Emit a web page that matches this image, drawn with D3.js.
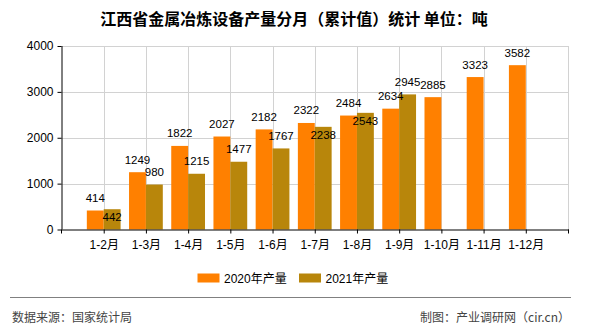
<!DOCTYPE html>
<html>
<head>
<meta charset="utf-8">
<script src="https://cdn.jsdelivr.net/npm/d3@7/dist/d3.min.js"></script>
<style>
  body { margin: 0; background: #fff; }
  svg { display: block; font-family: "Liberation Sans", "Noto Sans CJK SC", sans-serif; }
</style>
</head>
<body>
<svg id="chart" width="590" height="330"></svg>
<script>
// Cumulative monthly output, tonnes
const categories = ["1-2月", "1-3月", "1-4月", "1-5月", "1-6月", "1-7月", "1-8月", "1-9月", "1-10月", "1-11月", "1-12月"];
const values2020 = [414, 1249, 1822, 2027, 2182, 2322, 2484, 2634, 2885, 3323, 3582];
const values2021 = [442, 980, 1215, 1477, 1767, 2238, 2543, 2945, null, null, null];
const yTicks = [0, 1000, 2000, 3000, 4000];
const seriesNames = ["2020年产量", "2021年产量"];
const colors = ["#FF8000", "#B8860B"];

const svg = d3.select("#chart");
const plotLeft = 61.5, plotRight = 568, plotTop = 46, plotBottom = 229.5;

const x = d3.scalePoint().domain(categories).range([plotLeft, plotRight]).padding(1);
const y = d3.scaleLinear().domain([0, 4000]).range([plotBottom, plotTop]);
const barW = x.step() * 0.4;

// title
svg.append("text")
  .attr("x", 294).attr("y", 18)
  .attr("text-anchor", "middle").attr("dominant-baseline", "central")
  .style("font-family", "'Noto Sans CJK SC', sans-serif")
  .style("font-size", "16px").style("font-weight", "bold").attr("fill", "#000")
  .text("江西省金属冶炼设备产量分月（累计值）统计 单位：吨");

// grid
const grid = svg.append("g").attr("stroke", "#d2d2d2").attr("stroke-width", 1);
yTicks.filter(d => d > 0).forEach(t => {
  grid.append("line").attr("x1", plotLeft).attr("x2", plotRight)
    .attr("y1", Math.round(y(t)) + 0.5).attr("y2", Math.round(y(t)) + 0.5);
});
categories.forEach(c => {
  grid.append("line").attr("x1", Math.round(x(c)) + 0.5).attr("x2", Math.round(x(c)) + 0.5)
    .attr("y1", plotTop).attr("y2", plotBottom);
});
grid.append("line").attr("x1", plotRight + 0.5).attr("x2", plotRight + 0.5).attr("y1", plotTop).attr("y2", plotBottom);

// bars
const bars = svg.append("g");
categories.forEach((c, i) => {
  const cx = x(c);
  bars.append("rect")
    .attr("x", cx - barW).attr("width", barW)
    .attr("y", y(values2020[i])).attr("height", y(0) - y(values2020[i]))
    .attr("fill", colors[0]);
  if (values2021[i] != null) {
    bars.append("rect")
      .attr("x", cx).attr("width", barW)
      .attr("y", y(values2021[i])).attr("height", y(0) - y(values2021[i]))
      .attr("fill", colors[1]);
  }
});

// axes
const yAxis = svg.append("g").attr("transform", `translate(${plotLeft},0)`)
  .call(d3.axisLeft(y).tickValues(yTicks).tickSize(4).tickPadding(4).tickFormat(d3.format("d")));
const xAxis = svg.append("g").attr("transform", `translate(0,${plotBottom})`)
  .call(d3.axisBottom(x).tickSize(4).tickPadding(5));
xAxis.append("line").attr("x1", plotRight + 0.5).attr("x2", plotRight + 0.5).attr("y1", 0).attr("y2", 4).attr("stroke", "#000");
xAxis.append("line").attr("x1", plotLeft).attr("x2", plotLeft).attr("y1", 0).attr("y2", 4).attr("stroke", "#000");
xAxis.select(".domain").attr("d", `M${plotLeft},0.5H${plotRight + 1}`);
yAxis.select(".domain").attr("d", `M0.5,${plotTop}V${plotBottom}`);
[xAxis, yAxis].forEach(a => {
  a.selectAll("text").style("font-size", "12px").attr("fill", "#000")
    .style("font-family", "'Liberation Sans', 'Noto Sans CJK SC', sans-serif");
  a.selectAll("line, path").attr("stroke", "#000");
});
xAxis.selectAll(".tick text").attr("dy", "0.9em");

// value labels
const labels = svg.append("g").style("font-size", "11.5px").attr("fill", "#000")
  .attr("text-anchor", "middle").attr("dominant-baseline", "central");
categories.forEach((c, i) => {
  const cx = x(c);
  const t20 = y(values2020[i]);
  labels.append("text").attr("x", cx - barW / 2).attr("y", t20 - 12.5).text(values2020[i]);
  if (values2021[i] != null) {
    const t21 = y(values2021[i]);
    const clash = Math.abs(t21 - t20) < 12;
    labels.append("text").attr("x", cx + barW / 2).attr("y", clash ? t21 + 8 : t21 - 12.5).text(values2021[i]);
  }
});

// legend
const legend = svg.append("g");
const legendX = [197.5, 299];
seriesNames.forEach((n, i) => {
  legend.append("rect").attr("x", legendX[i]).attr("y", 273.5).attr("width", 22).attr("height", 9).attr("fill", colors[i]);
  legend.append("text").attr("x", legendX[i] + 26.5).attr("y", 278.5)
    .attr("dominant-baseline", "central").style("font-size", "12px").attr("fill", "#000").text(n);
});

// footer
svg.append("line").attr("x1", 10).attr("x2", 571).attr("y1", 297.5).attr("y2", 297.5)
  .attr("stroke", "#808080").attr("stroke-width", 1);
svg.append("text").attr("x", 12).attr("y", 316).attr("dominant-baseline", "central")
  .style("font-family", "'Noto Sans CJK SC', sans-serif").style("font-size", "12px").attr("fill", "#444")
  .text("数据来源：国家统计局");
svg.append("text").attr("x", 570).attr("y", 316).attr("dominant-baseline", "central").attr("text-anchor", "end")
  .style("font-family", "'Noto Sans CJK SC', sans-serif").style("font-size", "12px").attr("fill", "#444")
  .text("制图：产业调研网（cir.cn）");
</script>
</body>
</html>
